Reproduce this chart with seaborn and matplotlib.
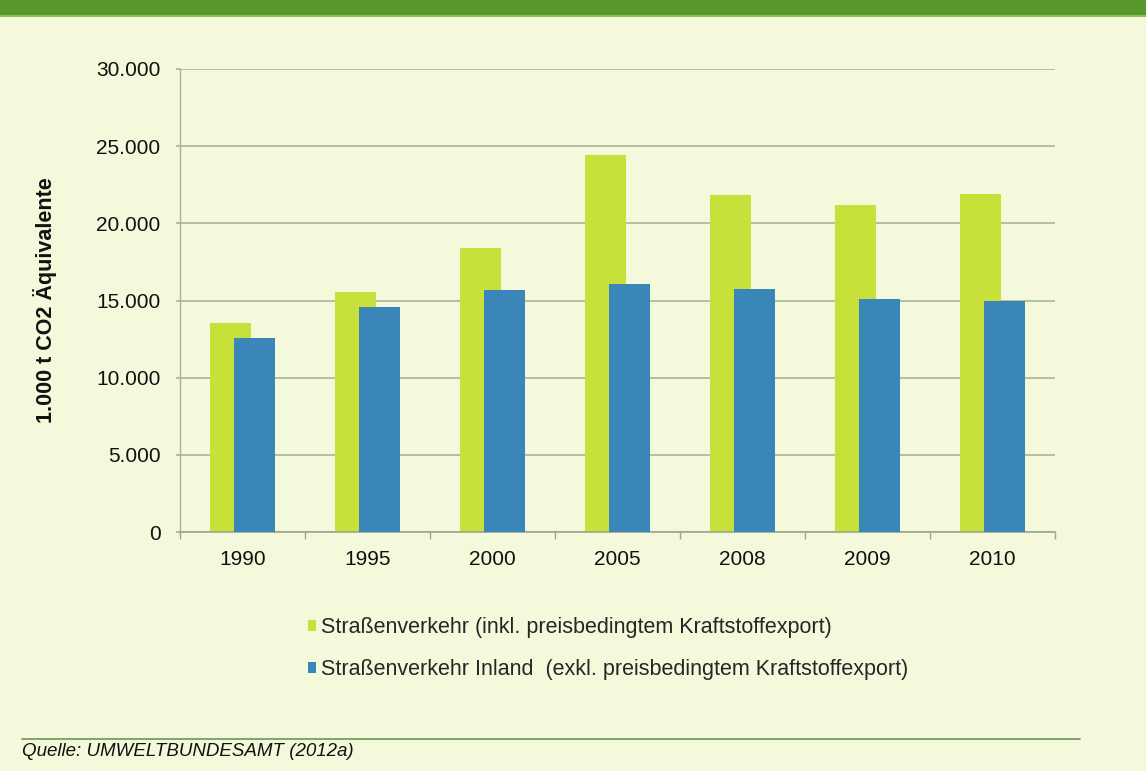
import matplotlib
matplotlib.use("Agg")
import matplotlib.pyplot as plt
from matplotlib.patches import Rectangle, Patch
from matplotlib.lines import Line2D
import seaborn as sns
import pandas as pd
import numpy as np

# Emissions from road traffic, in 1.000 t CO2 equivalents
years = ["1990", "1995", "2000", "2005", "2008", "2009", "2010"]
incl_export = [13550, 15550, 18420, 24450, 21830, 21180, 21880]
inland = [12600, 14560, 15680, 16100, 15760, 15100, 14990]

series_names = [
    "Straßenverkehr (inkl. preisbedingtem Kraftstoffexport)",
    "Straßenverkehr Inland  (exkl. preisbedingtem Kraftstoffexport)",
]
yticks = [0, 5000, 10000, 15000, 20000, 25000, 30000]
ytick_labels = ["0", "5.000", "10.000", "15.000", "20.000", "25.000", "30.000"]

GREEN = "#c8e03a"
BLUE = "#3a86b9"
BG = "#f3f9da"
GRID = "#a7b596"

sns.set_theme(style="white")
plt.rcParams["font.family"] = ["Liberation Sans", "DejaVu Sans"]

fig = plt.figure(figsize=(11.46, 7.71), dpi=100, facecolor=BG)
ax = fig.add_axes([180 / 1146, 1 - 532 / 771, 875 / 1146, 463 / 771])
ax.set_facecolor(BG)

df = pd.DataFrame({"Jahr": years, "inkl": incl_export, "inland": inland})

bar_w = 0.33
shift = 0.094

# back series (incl. fuel export), shifted left
sns.barplot(data=df, x="Jahr", y="inkl", color=GREEN, width=bar_w,
            saturation=1, ax=ax, zorder=2)
n_green = len(ax.patches)
for p in ax.patches:
    p.set_x(p.get_x() - shift)
    p.set_edgecolor("none")

# front series (domestic), shifted right
sns.barplot(data=df, x="Jahr", y="inland", color=BLUE, width=bar_w,
            saturation=1, ax=ax, zorder=3)
for p in ax.patches[n_green:]:
    p.set_x(p.get_x() + shift)
    p.set_edgecolor("none")

ax.set_xlim(-0.5, len(years) - 0.5)
ax.set_ylim(0, 30000)
ax.set_yticks(yticks)
ax.set_yticklabels(ytick_labels)

# gridlines
for v in yticks:
    ax.axhline(v, color=GRID, lw=1.2, zorder=1)

for s in ["top", "right"]:
    ax.spines[s].set_visible(False)
ax.spines["left"].set_color(GRID)
ax.spines["bottom"].set_color("#9aa58e")
ax.spines["left"].set_linewidth(1.0)
ax.spines["bottom"].set_linewidth(1.2)

ax.tick_params(axis="y", which="major", length=3, color=GRID, pad=11,
               labelsize=15, labelcolor="#111111", left=True)
ax.tick_params(axis="x", which="major", length=0, pad=13,
               labelsize=15, labelcolor="#111111")
ax.set_xticks(np.arange(-0.5, len(years) + 0.5, 1.0), minor=True)
ax.tick_params(axis="x", which="minor", length=5, color="#9aa58e",
               width=1.0, bottom=True)

ax.set_xlabel("")
ax.set_ylabel("1.000 t CO2 Äquivalente", fontsize=15.5, fontweight="bold",
              color="#111111")
ax.yaxis.set_label_coords(-0.1406, 0.5)

# legend below the plot
handles = [Patch(facecolor=GREEN, edgecolor="none"),
           Patch(facecolor=BLUE, edgecolor="none")]
fig.legend(handles, series_names, loc="upper left",
           bbox_to_anchor=(297 / 1146, 1 - 606 / 771),
           frameon=False, fontsize=15.5, handlelength=0.4, handleheight=0.4,
           handletextpad=0.2, labelspacing=1.0, borderpad=0)

# top header band
fig.add_artist(Rectangle((0, 1 - 15 / 771), 1, 15 / 771,
                         transform=fig.transFigure, facecolor="#56982c",
                         edgecolor="none", zorder=5))
fig.add_artist(Rectangle((0, 1 - 17 / 771), 1, 2.5 / 771,
                         transform=fig.transFigure, facecolor="#8fbf5a",
                         edgecolor="none", zorder=5))

# footer rule and source note
fig.add_artist(Line2D([22 / 1146, 1080 / 1146], [1 - 739 / 771, 1 - 739 / 771],
                      transform=fig.transFigure, color="#7d9a62", lw=1.3))
fig.text(22 / 1146, 1 - 751 / 771, "Quelle: UMWELTBUNDESAMT (2012a)",
         fontsize=13.5, style="italic", color="#111111", va="center", ha="left")

fig.savefig("out.png", dpi=100, facecolor=BG)
